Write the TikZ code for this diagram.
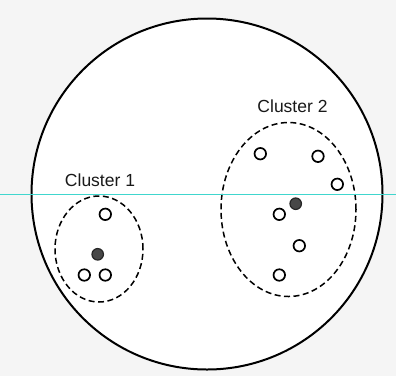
\documentclass[tikz,border=0pt]{standalone}
\usepackage{fontspec}
\setmainfont{Liberation Sans}
\usetikzlibrary{shapes.geometric}
\definecolor{guide}{RGB}{64,214,206}
\begin{document}
\begin{tikzpicture}[x=1pt,y=-1pt,
  pt/.style={circle,draw=black,line width=1.7pt,fill=white,minimum size=11.5pt,inner sep=0pt},
  ctr/.style={circle,draw=black!85,line width=1.2pt,fill=black!72,minimum size=11.5pt,inner sep=0pt},
  clus/.style={draw=black,line width=1.5pt,dash pattern=on 6pt off 3.5pt},
  lbl/.style={font=\fontsize{17.5}{20}\selectfont,text=black!90,inner sep=0pt}]
\useasboundingbox (0,0) rectangle (396,376);
\fill[black!4] (0,0) rectangle (396,376);
\node[circle,draw=black,line width=2pt,fill=white,minimum size=351pt,inner sep=0pt] (space) at (207,194) {};
\node[ellipse,clus,minimum width=88pt,minimum height=106pt,inner sep=0pt] (c1) at (99,249) {};
\node[ellipse,clus,minimum width=135pt,minimum height=174pt,inner sep=0pt] (c2) at (288.5,209.5) {};
\node[lbl] (l1) at (100,180) {Cluster 1};
\node[lbl] (l2) at (292.5,106) {Cluster 2};
% cluster 1
\node[pt] (a1) at (105.3,214.3) {};
\node[ctr] (m1) at (97.7,254.3) {};
\node[pt] (a2) at (84.3,275) {};
\node[pt] (a3) at (105.3,275) {};
% cluster 2
\node[pt] (b1) at (260.3,153.7) {};
\node[pt] (b2) at (318,156.3) {};
\node[pt] (b3) at (337.3,184.3) {};
\node[ctr] (m2) at (295.7,203.7) {};
\node[pt] (b4) at (279.3,214.3) {};
\node[pt] (b5) at (299.3,245.7) {};
\node[pt] (b6) at (279.3,275) {};
% cyan guide line
\coordinate (gl) at (0,194.3);
\coordinate (gr) at (396,194.3);
\draw[guide,line width=1pt] (gl) -- (gr);
\end{tikzpicture}
\end{document}
